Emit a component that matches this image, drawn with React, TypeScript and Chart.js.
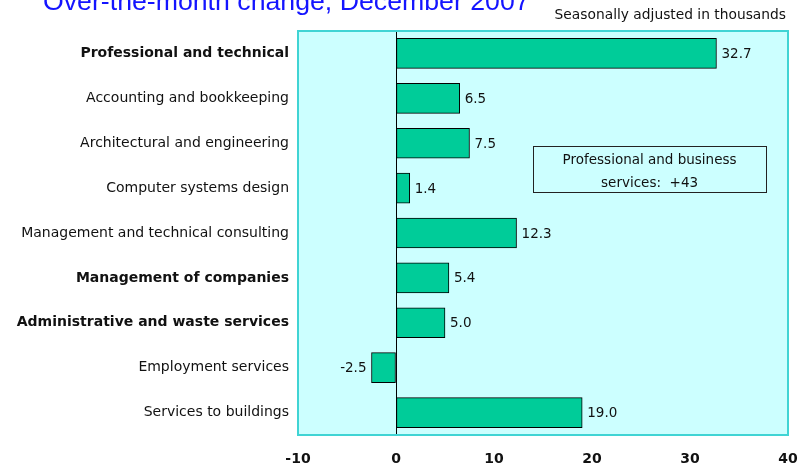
import React, { useEffect, useRef } from "react";
import { Chart, registerables } from "chart.js";

Chart.register(...registerables);

const categories = [
  "Professional and technical",
  "Accounting and bookkeeping",
  "Architectural and engineering",
  "Computer systems design",
  "Management and technical consulting",
  "Management of companies",
  "Administrative and waste services",
  "Employment services",
  "Services to buildings",
];
const boldRows = [true, false, false, false, false, true, true, false, false];
const values = [32.7, 6.5, 7.5, 1.4, 12.3, 5.4, 5.0, -2.5, 19.0];
const xTicks = [-10, 0, 10, 20, 30, 40];

const titleText = "Over-the-month change, December 2007";
const subtitleText = "Seasonally adjusted in thousands";
const noteLines = ["Professional and business", "services:  +43"];

const FONT = "'DejaVu Sans', Verdana, sans-serif";

export default function App() {
  const ref = useRef<HTMLCanvasElement | null>(null);

  useEffect(() => {
    document.body.style.margin = "0";
    const canvas = ref.current!;
    const bgPlugin = {
      id: "bg",
      beforeDraw(chart: any) {
        const { ctx, chartArea: a } = chart;
        ctx.save();
        ctx.fillStyle = "#ccffff";
        ctx.fillRect(a.left, a.top, a.right - a.left, a.bottom - a.top);
        ctx.restore();
      },
      afterDraw(chart: any) {
        const { ctx, chartArea: a } = chart;
        ctx.save();
        ctx.strokeStyle = "#40d4d4";
        ctx.lineWidth = 2;
        ctx.strokeRect(a.left, a.top, a.right - a.left, a.bottom - a.top);
        // title & subtitle
        ctx.fillStyle = "#1414ff";
        ctx.font = "26.7px 'Liberation Sans', Arial, sans-serif";
        ctx.textAlign = "left";
        ctx.textBaseline = "alphabetic";
        ctx.fillText(titleText, 43, 10);
        ctx.fillStyle = "#111";
        ctx.font = "13.8px " + FONT;
        ctx.textAlign = "right";
        ctx.fillText(subtitleText, 786, 19);
        // note box
        const xs = chart.scales.x;
        const ys = chart.scales.y;
        const x0 = xs.getPixelForValue(14);
        const x1 = xs.getPixelForValue(37.75);
        const y0 = ys.getPixelForValue(2.06);
        const y1 = ys.getPixelForValue(3.085);
        ctx.fillStyle = "#ccffff";
        ctx.fillRect(x0, y0, x1 - x0, y1 - y0);
        ctx.strokeStyle = "#222";
        ctx.lineWidth = 1;
        ctx.strokeRect(Math.round(x0) + 0.5, Math.round(y0) + 0.5, Math.round(x1 - x0), Math.round(y1 - y0));
        ctx.fillStyle = "#111";
        ctx.font = "13.5px " + FONT;
        ctx.textAlign = "center";
        const cx = (x0 + x1) / 2;
        ctx.fillText(noteLines[0], cx, y0 + 18);
        ctx.fillText(noteLines[1], cx, y0 + 41);
        ctx.restore();
      },
    };
    const labelPlugin = {
      id: "vals",
      afterDatasetsDraw(chart: any) {
        const { ctx } = chart;
        const meta = chart.getDatasetMeta(0);
        ctx.save();
        ctx.font = "13.5px " + FONT;
        ctx.fillStyle = "#111";
        ctx.textBaseline = "middle";
        meta.data.forEach((bar: any, i: number) => {
          const v = values[i];
          const t = v.toFixed(1);
          if (v >= 0) {
            ctx.textAlign = "left";
            ctx.fillText(t, bar.x + 5, bar.y + 1);
          } else {
            ctx.textAlign = "right";
            ctx.fillText(t, bar.x - 5, bar.y + 1);
          }
        });
        ctx.restore();
      },
    };

    const chart = new Chart(canvas, {
      type: "bar",
      data: {
        labels: categories,
        datasets: [
          {
            data: values,
            backgroundColor: "#00cc99",
            borderColor: "#000",
            borderWidth: 1,
            borderSkipped: false,
            barThickness: 30,
          },
        ],
      },
      options: {
        indexAxis: "y",
        responsive: false,
        animation: false,
        devicePixelRatio: 1,
        layout: { padding: { top: 31, right: 13, left: 0, bottom: 0 } },
        plugins: { legend: { display: false }, tooltip: { enabled: false } },
        scales: {
          x: {
            type: "linear",
            min: -10,
            max: 40,
            afterBuildTicks: (s: any) => {
              s.ticks = xTicks.map((v) => ({ value: v }));
            },
            afterFit: (s: any) => {
              s.height = 33;
              s.paddingLeft = 0;
              s.paddingRight = 0;
            },
            ticks: {
              color: "#111",
              font: { family: FONT, size: 14, weight: "bold" },
              padding: 16,
              maxRotation: 0,
            },
            grid: {
              drawTicks: false,
              color: (c: any) => (c.tick && c.tick.value === 0 ? "#000" : "rgba(0,0,0,0)"),
              lineWidth: 1,
            },
            border: { display: false },
          },
          y: {
            type: "category",
            offset: true,
            afterFit: (s: any) => {
              s.width = 298;
              s.paddingTop = 0;
              s.paddingBottom = 0;
            },
            ticks: {
              color: "#111",
              padding: 9,
              font: (c: any) =>
                boldRows[c.index]
                  ? { family: FONT, size: 14, weight: "bold" }
                  : { family: FONT, size: 14, weight: "normal" },
            },
            grid: { display: false, drawTicks: false },
            border: { display: false },
          },
        },
      },
      plugins: [bgPlugin, labelPlugin],
    });
    return () => chart.destroy();
  }, []);

  return (
    <div style={{ position: "fixed", left: 0, top: 0, width: 801, height: 468, background: "#fff" }}>
      <canvas ref={ref} width={801} height={468} style={{ width: 801, height: 468 }} />
    </div>
  );
}
